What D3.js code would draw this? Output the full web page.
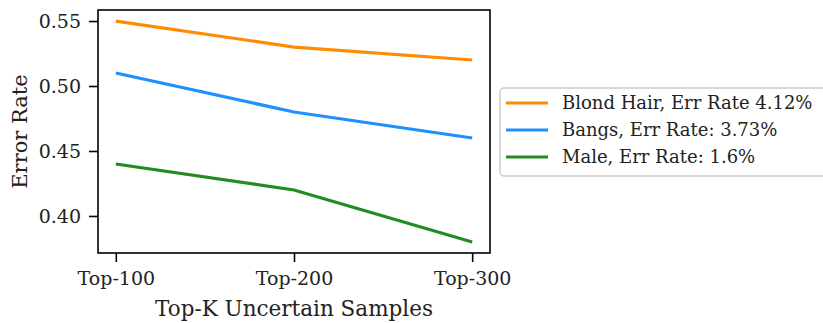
<html>
<head>
<script src="https://cdn.jsdelivr.net/npm/d3@7"></script>
<style>
  body { margin: 0; background: #fff; }
  text { font-family: "DejaVu Serif", "Liberation Serif", serif; fill: #222; }
</style>
</head>
<body>
<script>
var categories = ["Top-100", "Top-200", "Top-300"];
var blondHair = [0.55, 0.53, 0.52];
var bangs = [0.51, 0.48, 0.46];
var male = [0.44, 0.42, 0.38];
var yTicks = [0.40, 0.45, 0.50, 0.55];

var series = [
  { name: "Blond Hair, Err Rate 4.12%", values: blondHair, color: "#ff8c00" },
  { name: "Bangs, Err Rate: 3.73%", values: bangs, color: "#1e90ff" },
  { name: "Male, Err Rate: 1.6%", values: male, color: "#228b22" }
];

var svg = d3.select("body").append("svg").attr("width", 823).attr("height", 323);

var pLeft = 98, pTop = 10, pRight = 490, pBottom = 253;

var x = d3.scaleLinear().domain([-0.1, 2.1]).range([pLeft, pRight]);
var y = d3.scaleLinear().domain([0.3715, 0.5585]).range([pBottom, pTop]);

// lines
var line = d3.line()
  .x(function(d, i) { return x(i); })
  .y(function(d) { return y(d); });

svg.selectAll(".series")
  .data(series)
  .enter().append("path")
  .attr("fill", "none")
  .attr("stroke", function(d) { return d.color; })
  .attr("stroke-width", 3.2)
  .attr("d", function(d) { return line(d.values); });

// axes
var xAxis = d3.axisBottom(x)
  .tickValues([0, 1, 2])
  .tickFormat(function(d) { return categories[d]; })
  .tickSize(9).tickPadding(7).tickSizeOuter(0);
var yAxis = d3.axisLeft(y)
  .tickValues(yTicks)
  .tickFormat(d3.format(".2f"))
  .tickSize(9).tickPadding(8).tickSizeOuter(0);

var gx = svg.append("g").attr("transform", "translate(0," + pBottom + ")").call(xAxis);
var gy = svg.append("g").attr("transform", "translate(" + pLeft + ",0)").call(yAxis);
[gx, gy].forEach(function(g) {
  g.select(".domain").remove();
  g.selectAll("line").attr("stroke", "#000").attr("stroke-width", 1.6);
  g.selectAll("text").style("font-size", "19px").attr("fill", "#222");
});
gy.selectAll("text").attr("dy", "0.35em");
gx.selectAll("text").attr("dy", "0.85em");

// frame
svg.append("rect")
  .attr("x", pLeft).attr("y", pTop)
  .attr("width", pRight - pLeft).attr("height", pBottom - pTop)
  .attr("fill", "none").attr("stroke", "#000").attr("stroke-width", 1.6);

// axis labels
svg.append("text")
  .attr("x", (pLeft + pRight) / 2).attr("y", 316)
  .attr("text-anchor", "middle")
  .style("font-size", "21.5px")
  .text("Top-K Uncertain Samples");

svg.append("text")
  .attr("transform", "translate(27," + (pTop + pBottom) / 2 + ") rotate(-90)")
  .attr("text-anchor", "middle")
  .style("font-size", "21px")
  .text("Error Rate");

// legend
var legend = svg.append("g");
legend.append("rect")
  .attr("x", 500).attr("y", 88)
  .attr("width", 330).attr("height", 88)
  .attr("rx", 4)
  .attr("fill", "#fff").attr("stroke", "#ccc").attr("stroke-width", 1.5);

var items = legend.selectAll(".item")
  .data(series)
  .enter().append("g")
  .attr("transform", function(d, i) { return "translate(0," + (103 + i * 27) + ")"; });

items.append("line")
  .attr("x1", 506).attr("x2", 548)
  .attr("stroke", function(d) { return d.color; })
  .attr("stroke-width", 3.2);

items.append("text")
  .attr("x", 562).attr("dy", "0.35em")
  .style("font-size", "18px")
  .text(function(d) { return d.name; });
</script>
</body>
</html>
